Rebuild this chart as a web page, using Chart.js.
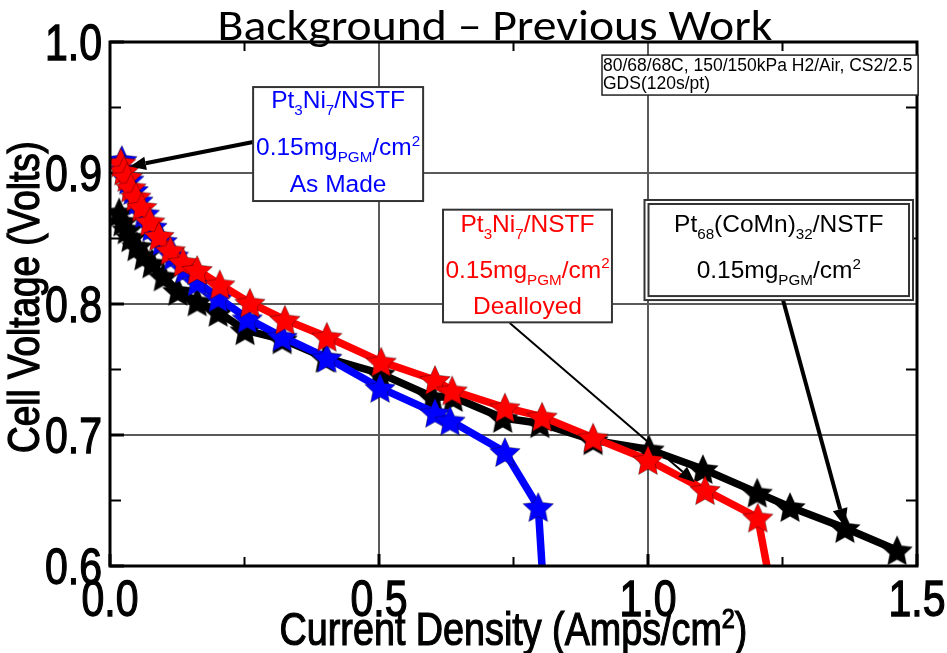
<!DOCTYPE html>
<html>
<head>
<meta charset="utf-8">
<script src="https://cdn.jsdelivr.net/npm/chart.js@4.4.1/dist/chart.umd.min.js"></script>
<style>
  html, body { margin: 0; padding: 0; background: #ffffff; }
  #wrap { position: relative; width: 947px; height: 653px; }
</style>
</head>
<body>
<div id="wrap"><canvas id="polcurve" width="947" height="653"></canvas></div>
<script>
// ---- text ----
const chartTitle = 'Background – Previous Work';
const xAxisTitleParts = [['Current Density (Amps/cm'], ['2', 'sup'], [')']];
const yAxisTitle = 'Cell Voltage (Volts)';
const conditionLines = ['80/68/68C, 150/150kPa H2/Air, CS2/2.5', 'GDS(120s/pt)'];

// ---- tick labels ----
const xTicks = [0.0, 0.5, 1.0, 1.5];
const yTicks = [0.6, 0.7, 0.8, 0.9, 1.0];

// ---- polarization curves: current density (A/cm2) and cell voltage (V) ----
const asMadeJ = [0.022, 0.028, 0.035, 0.043, 0.052, 0.064, 0.078, 0.097, 0.118, 0.140, 0.162, 0.201, 0.255, 0.320, 0.403, 0.502, 0.604, 0.632, 0.734, 0.796, 0.803];
const asMadeV = [0.910, 0.903, 0.895, 0.887, 0.879, 0.869, 0.859, 0.848, 0.837, 0.827, 0.817, 0.805, 0.789, 0.775, 0.759, 0.736, 0.717, 0.711, 0.687, 0.645, 0.600];

const dealloyedJ = [0.020, 0.026, 0.032, 0.039, 0.048, 0.059, 0.074, 0.091, 0.112, 0.136, 0.162, 0.204, 0.260, 0.325, 0.403, 0.504, 0.604, 0.636, 0.734, 0.803, 0.898, 1.000, 1.106, 1.204, 1.221];
const dealloyedV = [0.908, 0.902, 0.897, 0.889, 0.882, 0.874, 0.863, 0.852, 0.841, 0.832, 0.826, 0.815, 0.801, 0.788, 0.775, 0.756, 0.742, 0.734, 0.721, 0.714, 0.698, 0.681, 0.658, 0.637, 0.600];

const coMnJ = [0.017, 0.024, 0.032, 0.039, 0.050, 0.063, 0.078, 0.099, 0.126, 0.162, 0.201, 0.251, 0.320, 0.400, 0.502, 0.600, 0.638, 0.730, 0.799, 0.898, 1.002, 1.102, 1.203, 1.264, 1.366, 1.463];
const coMnV = [0.870, 0.863, 0.857, 0.851, 0.844, 0.837, 0.831, 0.821, 0.810, 0.802, 0.794, 0.780, 0.773, 0.759, 0.747, 0.729, 0.729, 0.713, 0.709, 0.696, 0.689, 0.674, 0.656, 0.645, 0.629, 0.612];

const BLUE = '#0000ff', RED = '#ff0000', BLACK = '#000000';
const SANS = '"Liberation Sans", Arial, sans-serif';
const NARROW_X = 0.82;   // horizontal squeeze for the condensed axis lettering

function toPoints(xs, ys) { return xs.map((x, i) => ({ x: x, y: ys[i] })); }

// filled five-point star used as the point marker
function starImage(color, r) {
  const s = Math.ceil(r * 2 + 2);
  const c = document.createElement('canvas');
  c.width = s; c.height = s;
  const g = c.getContext('2d');
  g.translate(s / 2, s / 2 + r * 0.1);
  g.beginPath();
  for (let i = 0; i < 10; i++) {
    const rad = i % 2 ? r * 0.48 : r;
    const a = -Math.PI / 2 + i * Math.PI / 5;
    g.lineTo(rad * Math.cos(a), rad * Math.sin(a));
  }
  g.closePath();
  g.fillStyle = color;
  g.fill();
  g.lineWidth = 1;
  g.strokeStyle = 'rgba(0,0,0,0.35)';
  g.stroke();
  return c;
}

const Y_MIN = 0.6, Y_MAX = 1.0;
const hideAtAxis = ctx => (ctx.raw && ctx.raw.y <= Y_MIN ? 0 : 15);

// ---- annotation boxes, placed in data units ----
const labelBoxes = [
  { x0: 0.266, x1: 0.582, y0: 0.9656, y1: 0.8786, color: BLUE, double: false,
    lines: [
      { dy: 21, parts: [['Pt'], ['3', 'sub'], ['Ni'], ['7', 'sub'], ['/NSTF']] },
      { dy: 68, parts: [['0.15mg'], ['PGM', 'sub'], ['/cm'], ['2', 'sup']] },
      { dy: 105, parts: [['As Made']] }
    ] },
  { x0: 0.619, x1: 0.933, y0: 0.872, y1: 0.786, color: RED, double: false,
    lines: [
      { dy: 22, parts: [['Pt'], ['3', 'sub'], ['Ni'], ['7', 'sub'], ['/NSTF']] },
      { dy: 68, parts: [['0.15mg'], ['PGM', 'sub'], ['/cm'], ['2', 'sup']] },
      { dy: 104, parts: [['Dealloyed']] }
    ] },
  { x0: 0.9935, x1: 1.4926, y0: 0.8794, y1: 0.803, color: BLACK, double: true,
    lines: [
      { dy: 32, parts: [['Pt'], ['68', 'sub'], ['(CoMn)'], ['32', 'sub'], ['/NSTF']] },
      { dy: 78, parts: [['0.15mg'], ['PGM', 'sub'], ['/cm'], ['2', 'sup']] }
    ] }
];

const arrows = [
  { from: [0.266, 0.9237], to: [0.037, 0.905], width: 4, head: 16 },
  { from: [0.743, 0.7855], to: [1.087, 0.664], width: 2, head: 16 },
  { from: [1.251, 0.803], to: [1.366, 0.630], width: 4, head: 18 }
];

const conditionBox = { x0: 0.9145, x1: 1.502, y0: 0.990, y1: 0.9595 };

// writes a line made of normal / subscript / superscript runs, centred on cx
function drawRich(g, parts, cx, baseline, size, color, squeeze, heavy) {
  const k = squeeze || 1;
  const segs = parts.map(p => {
    const kind = p[1] || 'normal';
    const fs = kind === 'normal' ? size : size * 0.62;
    g.font = fs + 'px ' + SANS;
    return { text: p[0], kind: kind, fs: fs, w: g.measureText(p[0]).width };
  });
  const total = segs.reduce((s, d) => s + d.w, 0);
  g.save();
  g.translate(cx, baseline);
  g.scale(k, 1);
  let x = -total / 2;
  g.fillStyle = color;
  g.strokeStyle = color;
  g.lineWidth = heavy || 0;
  g.textAlign = 'left';
  g.textBaseline = 'alphabetic';
  segs.forEach(d => {
    g.font = d.fs + 'px ' + SANS;
    let y = 0;
    if (d.kind === 'sub') y += size * 0.28;
    if (d.kind === 'sup') y -= size * 0.38;
    g.fillText(d.text, x, y);
    if (heavy) g.strokeText(d.text, x, y);
    x += d.w;
  });
  g.restore();
}

function drawNarrow(g, text, x, y, size, align) {
  g.save();
  g.translate(x, y);
  g.scale(NARROW_X, 1);
  g.font = size + 'px ' + SANS;
  g.fillStyle = BLACK;
  g.strokeStyle = BLACK;
  g.lineWidth = 1.3;
  g.textAlign = align;
  g.textBaseline = 'alphabetic';
  g.fillText(text, 0, 0);
  g.strokeText(text, 0, 0);
  g.restore();
}

function drawArrow(g, x0, y0, x1, y1, w, head) {
  const a = Math.atan2(y1 - y0, x1 - x0);
  const bx = x1 - head * Math.cos(a), by = y1 - head * Math.sin(a);
  g.strokeStyle = BLACK;
  g.lineWidth = w;
  g.beginPath();
  g.moveTo(x0, y0);
  g.lineTo(bx, by);
  g.stroke();
  const hw = head * 0.42;
  g.fillStyle = BLACK;
  g.beginPath();
  g.moveTo(x1, y1);
  g.lineTo(bx + hw * Math.sin(a), by - hw * Math.cos(a));
  g.lineTo(bx - hw * Math.sin(a), by + hw * Math.cos(a));
  g.closePath();
  g.fill();
}

const framePlugin = {
  id: 'frameAndTicks',
  beforeDatasetsDraw(chart) {
    const g = chart.ctx, a = chart.chartArea;
    const xs = chart.scales.x, ys = chart.scales.y;
    g.save();
    g.strokeStyle = BLACK;
    // minor ticks, inward
    g.lineWidth = 2;
    for (let v = 0.25; v < 1.5; v += 0.5) {
      const px = xs.getPixelForValue(v);
      g.beginPath(); g.moveTo(px, a.bottom); g.lineTo(px, a.bottom - 9); g.stroke();
      g.beginPath(); g.moveTo(px, a.top); g.lineTo(px, a.top + 9); g.stroke();
    }
    for (let v = 0.65; v < 1.0; v += 0.1) {
      const py = ys.getPixelForValue(v);
      g.beginPath(); g.moveTo(a.left, py); g.lineTo(a.left + 11, py); g.stroke();
      g.beginPath(); g.moveTo(a.right, py); g.lineTo(a.right - 11, py); g.stroke();
    }
    // major ticks, inward
    g.lineWidth = 3;
    xs.ticks.forEach(t => {
      const px = xs.getPixelForValue(t.value);
      g.beginPath(); g.moveTo(px, a.bottom); g.lineTo(px, a.bottom - 12); g.stroke();
    });
    ys.ticks.forEach(t => {
      const py = ys.getPixelForValue(t.value);
      g.beginPath(); g.moveTo(a.left, py); g.lineTo(a.left + 14, py); g.stroke();
    });
    g.restore();
  },
  afterDatasetsDraw(chart) {
    const g = chart.ctx, a = chart.chartArea;
    const xs = chart.scales.x, ys = chart.scales.y;
    const X = v => xs.getPixelForValue(v), Y = v => ys.getPixelForValue(v);
    g.save();

    // plot frame
    g.strokeStyle = BLACK;
    g.lineWidth = 3;
    g.strokeRect(a.left, a.top, a.right - a.left, a.bottom - a.top);

    // axis tick labels and titles (condensed lettering)
    xs.ticks.forEach(t => drawNarrow(g, t.value.toFixed(1), X(t.value), a.bottom + 50, 50, 'center'));
    ys.ticks.forEach(t => drawNarrow(g, t.value.toFixed(1), a.left - 8, Y(t.value) + 18, 50, 'right'));
    drawRich(g, xAxisTitleParts, (a.left + a.right) / 2, 645, 46, BLACK, NARROW_X, 1.2);
    g.save();
    g.translate(39, (a.top + a.bottom) / 2 - 7);
    g.rotate(-Math.PI / 2);
    drawNarrow(g, yAxisTitle, 0, 0, 45, 'center');
    g.restore();

    // conditions note
    const cb = conditionBox;
    g.fillStyle = '#ffffff';
    g.fillRect(X(cb.x0), Y(cb.y0), X(cb.x1) - X(cb.x0), Y(cb.y1) - Y(cb.y0));
    g.lineWidth = 1.5;
    g.strokeStyle = '#222';
    g.strokeRect(X(cb.x0), Y(cb.y0), X(cb.x1) - X(cb.x0), Y(cb.y1) - Y(cb.y0));
    g.fillStyle = BLACK;
    g.font = '17.5px ' + SANS;
    g.textAlign = 'left';
    g.textBaseline = 'alphabetic';
    g.fillText(conditionLines[0], X(cb.x0) + 1, Y(cb.y0) + 16);
    g.fillText(conditionLines[1], X(cb.x0) + 1, Y(cb.y0) + 34);

    // arrows
    arrows.forEach(ar => drawArrow(g, X(ar.from[0]), Y(ar.from[1]), X(ar.to[0]), Y(ar.to[1]), ar.width, ar.head));

    // sample labels
    labelBoxes.forEach(b => {
      const l = X(b.x0), t = Y(b.y0), r = X(b.x1), btm = Y(b.y1);
      g.fillStyle = '#ffffff';
      g.fillRect(l, t, r - l, btm - t);
      g.strokeStyle = '#333';
      g.lineWidth = 2;
      g.strokeRect(l, t, r - l, btm - t);
      if (b.double) {
        g.strokeRect(l + 4, t + 4, r - l - 8, btm - t - 8);
      }
      b.lines.forEach(ln => drawRich(g, ln.parts, (l + r) / 2, t + ln.dy, 24.5, b.color));
    });

    // title across the top
    g.fillStyle = BLACK;
    g.textAlign = 'center';
    g.textBaseline = 'alphabetic';
    g.font = '44px Carlito, Lato, "Open Sans", sans-serif';
    const tw = g.measureText(chartTitle).width;
    g.translate(X(0.7156), 40);
    g.scale(555 / tw, 1);
    g.fillText(chartTitle, 0, 0);
    g.restore();
  }
};

const gridColor = ctx => {
  const v = ctx.tick && ctx.tick.value;
  const scale = ctx.scale;
  if (v === undefined || v <= scale.min + 1e-9 || v >= scale.max - 1e-9) return 'rgba(0,0,0,0)';
  return '#5a5a5a';
};

new Chart(document.getElementById('polcurve'), {
  type: 'line',
  data: {
    datasets: [
      { label: 'Pt3Ni7/NSTF Dealloyed', data: toPoints(dealloyedJ, dealloyedV), borderColor: RED, backgroundColor: RED,
        borderWidth: 7.5, pointStyle: starImage(RED, 16), pointRadius: hideAtAxis, order: 1 },
      { label: 'Pt3Ni7/NSTF As Made', data: toPoints(asMadeJ, asMadeV), borderColor: BLUE, backgroundColor: BLUE,
        borderWidth: 7.5, pointStyle: starImage(BLUE, 16), pointRadius: hideAtAxis, order: 2 },
      { label: 'Pt68(CoMn)32/NSTF', data: toPoints(coMnJ, coMnV), borderColor: BLACK, backgroundColor: BLACK,
        borderWidth: 7.5, pointStyle: starImage(BLACK, 16), pointRadius: hideAtAxis, order: 3 }
    ]
  },
  options: {
    responsive: false,
    animation: false,
    events: [],
    layout: { padding: { top: 42, right: 30, left: 0, bottom: 0 } },
    elements: { line: { tension: 0, borderJoinStyle: 'round', borderCapStyle: 'butt' } },
    plugins: { legend: { display: false }, tooltip: { enabled: false }, title: { display: false } },
    scales: {
      x: {
        type: 'linear', min: 0, max: 1.5,
        afterBuildTicks: s => { s.ticks = xTicks.map(v => ({ value: v })); },
        afterFit: s => { s.height = 87; s.paddingLeft = 0; s.paddingRight = 0; },
        ticks: { display: false },
        grid: { color: gridColor, lineWidth: 2, drawTicks: false },
        border: { display: false },
        title: { display: false }
      },
      y: {
        type: 'linear', min: Y_MIN, max: Y_MAX,
        afterBuildTicks: s => { s.ticks = yTicks.map(v => ({ value: v })); },
        afterFit: s => { s.width = 110; s.paddingTop = 0; s.paddingBottom = 0; },
        ticks: { display: false },
        grid: { color: gridColor, lineWidth: 2, drawTicks: false },
        border: { display: false },
        title: { display: false }
      }
    }
  },
  plugins: [framePlugin]
});
</script>
</body>
</html>
